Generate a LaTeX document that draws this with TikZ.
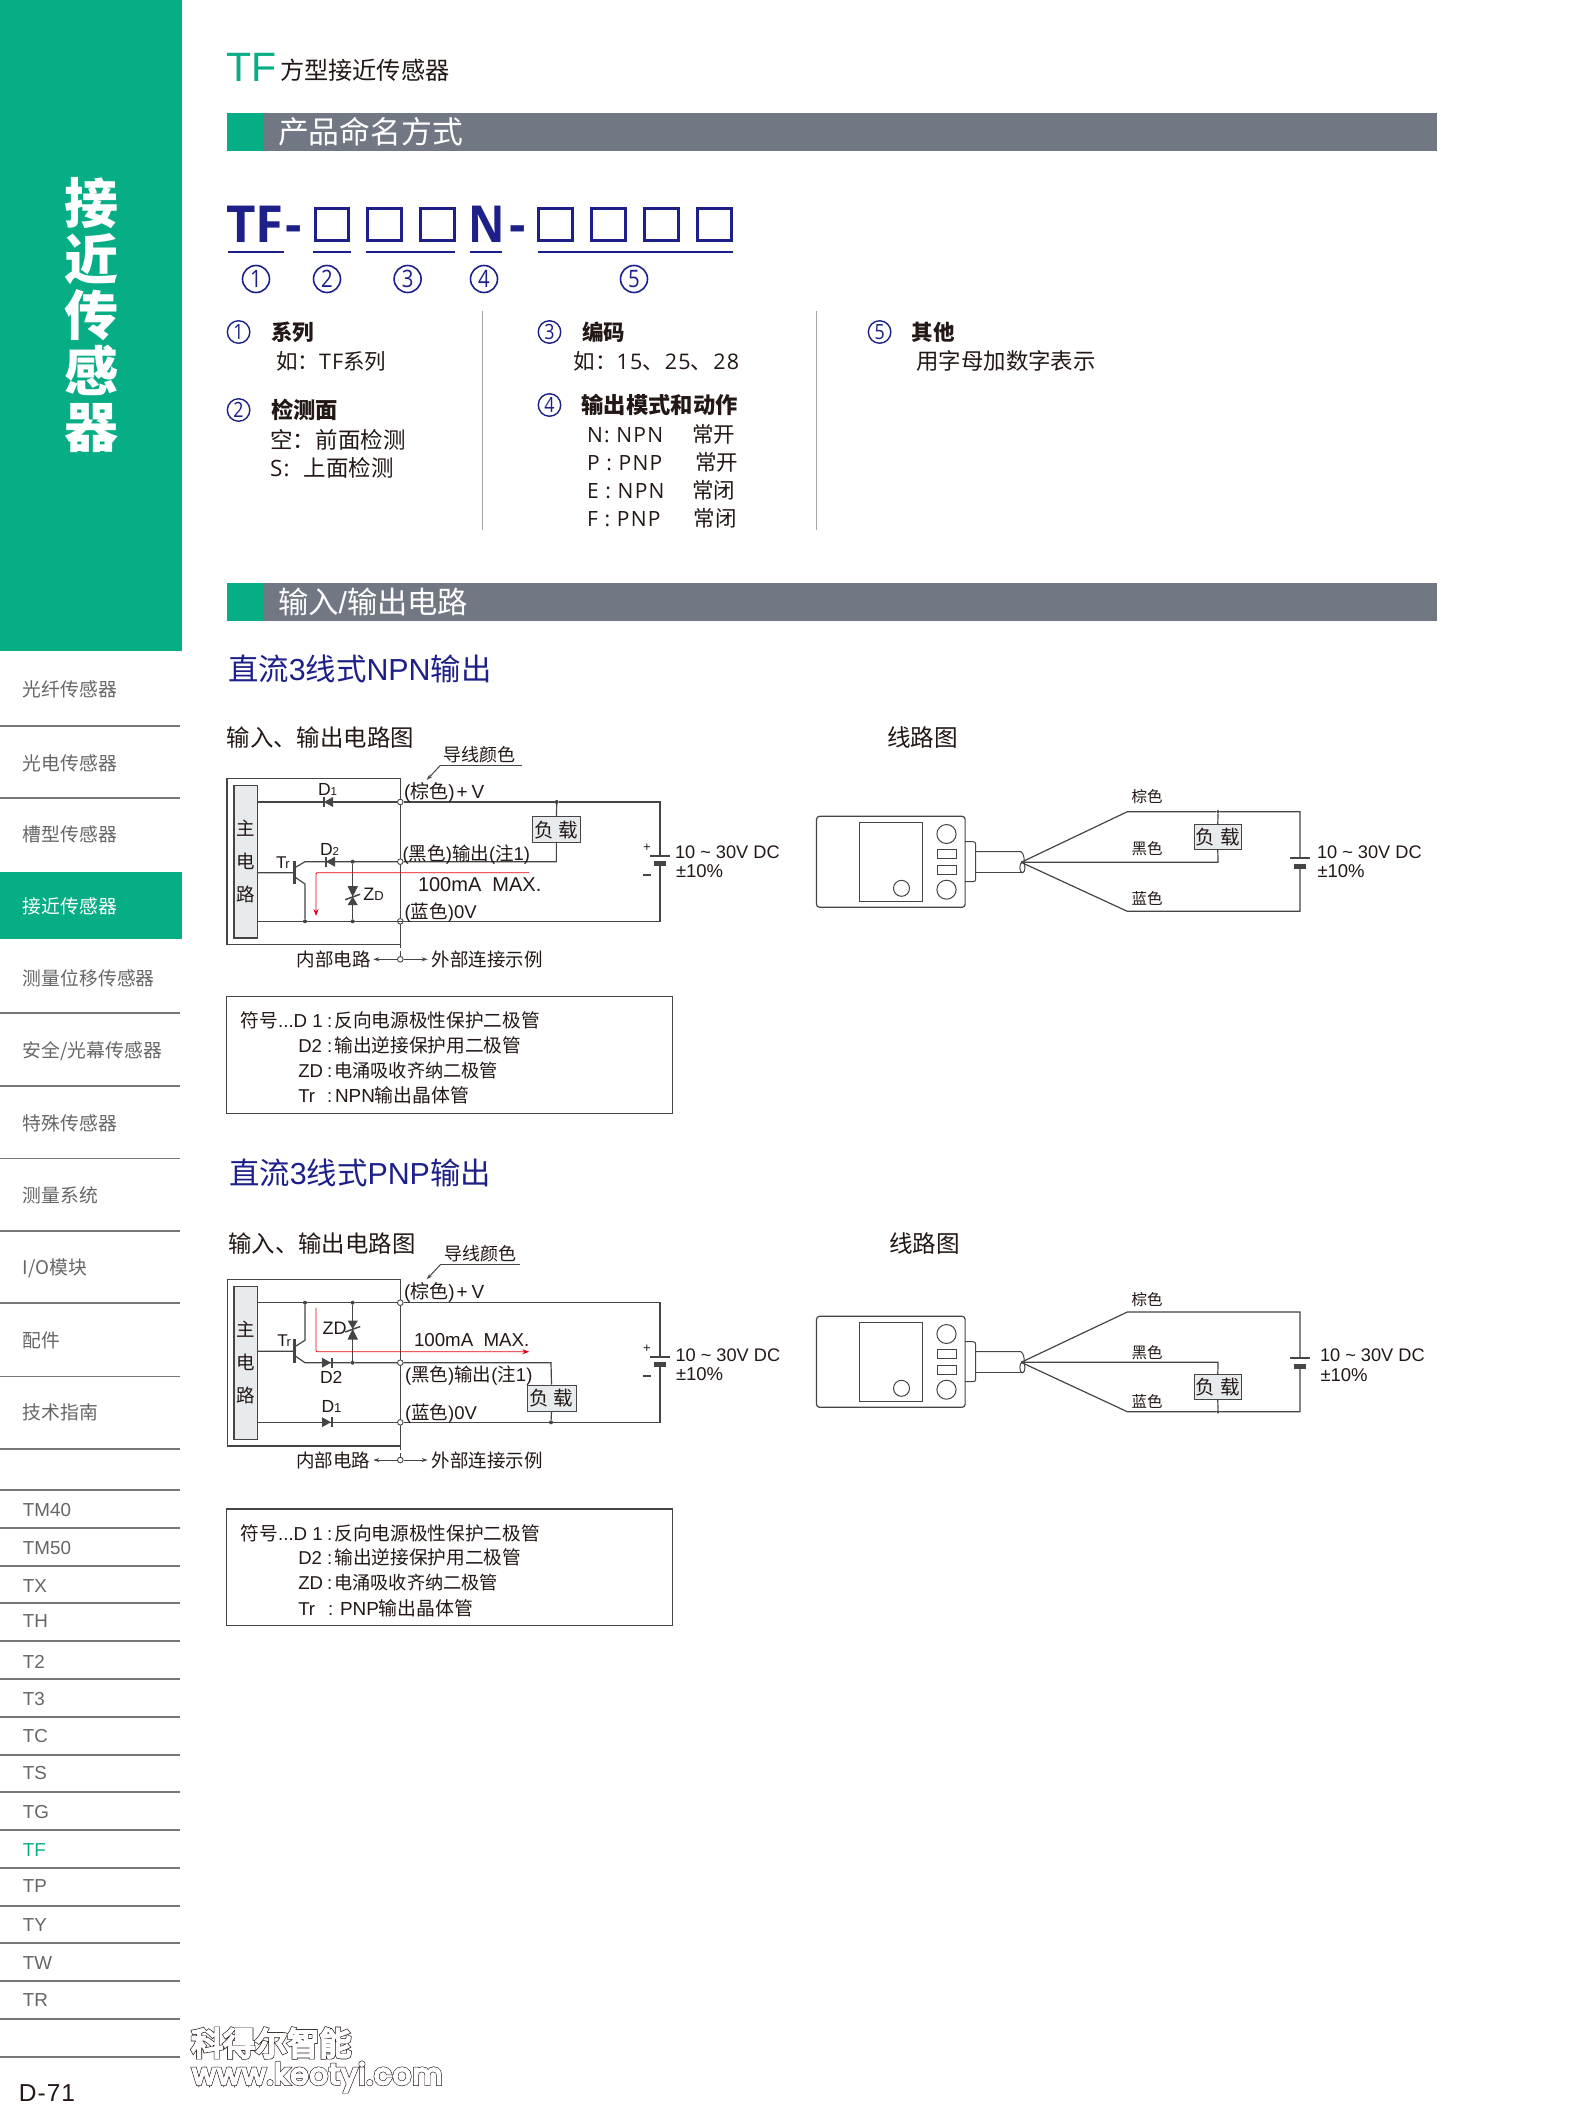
\documentclass[tikz,border=0pt]{standalone}
\usepackage{fontspec}
\setmainfont{Liberation Sans}
\newfontfamily\cjk{Noto Sans CJK SC}
\newfontfamily\op{Open Sans}[LetterSpace=6]
\newfontfamily\opn{Open Sans}
\newfontfamily\logoA{Noto Sans CJK SC}[FakeBold=11]
\newfontfamily\logoB{Noto Sans CJK SC}[FakeBold=7]
\newfontfamily\logoC{Poppins}[FakeBold=11,LetterSpace=4]
\newfontfamily\logoD{Poppins}[FakeBold=7,LetterSpace=4]
\usetikzlibrary{arrows.meta}
\definecolor{grn}{HTML}{07AE85}
\definecolor{bar}{HTML}{717783}
\definecolor{navy}{HTML}{1D2088}
\definecolor{txt}{HTML}{231815}
\definecolor{side}{HTML}{666666}
\definecolor{wire}{HTML}{454545}
\definecolor{loadfill}{HTML}{E8EBEE}
\definecolor{redl}{HTML}{E60012}
\definecolor{sep}{HTML}{777777}
\newcounter{tn}
\newcommand\Fs[1]{\fontsize{#1}{#1}\selectfont}
\newcommand\St{\rule[-.3em]{0pt}{1.34em}}
\newcommand\C[1]{{\cjk #1}}
\newcommand\CB[1]{{\cjk\bfseries #1}}
\newcommand\Nd[1]{\scalebox{.85}[1]{#1}}
\newcommand\Volt{10 \symbol{126} 30V DC}
% \lab[options]{x}{y}{size}{text}
\newcommand\lab[5][]{\stepcounter{tn}\node[lbl,#1] (t\arabic{tn}) at (#2,#3) {\Fs{#4}\St #5};}
% filled diodes: bar on the left / on the right
\newcommand\diodeL[2]{\fill[wire] ({#1+10.5},{#2-5}) -- ({#1+10.5},{#2+5}) -- ({#1+1.5},#2) -- cycle;
  \fill[wire] (#1,{#2-5}) rectangle ({#1+2},{#2+5});}
\newcommand\diodeR[2]{\fill[wire] (#1,{#2-5}) -- (#1,{#2+5}) -- ({#1+9},#2) -- cycle;
  \fill[wire] ({#1+9},{#2-5}) rectangle ({#1+11},{#2+5});}
\newcommand\zener[4]{\fill[wire] ({#1-5.2},{#2-#3}) -- ({#1+5.2},{#2-#3}) -- (#1,#2) -- cycle;
  \fill[wire] ({#1-5.2},{#2+#4}) -- ({#1+5.2},{#2+#4}) -- (#1,#2) -- cycle;
  \draw[wire,line width=1.5pt] ({#1-7.5},{#2+3}) -- ({#1+7.5},{#2-2.5});}
\newcommand\battery[3]{% x, y top plate, y bottom plate
  \draw[wire,line width=1.7pt] ({#1-10},#2) -- ({#1+10},#2);
  \fill[wire] ({#1-6},{#3-2.5}) rectangle ({#1+6},{#3+2.5});}
\newcommand\sensor[1]{\begin{scope}[shift={(0,#1)},wire,line width=1pt]
  \draw[rounded corners=3pt,line width=1.2pt] (816.5,816.3) rectangle (965.1,907.3);
  \draw (859,822.3) rectangle (922.8,901.7);
  \draw (946.5,834) ellipse (9.6pt and 9.5pt);
  \draw (946.5,889.7) ellipse (9.6pt and 9.5pt);
  \draw (937,849.7) rectangle (956.2,858.7);
  \draw (937,865.3) rectangle (956.2,874.7);
  \draw (901.5,888.3) circle[radius=8pt];
  \draw[rounded corners=2.5pt] (965.1,841.7) -- (975.7,841.7) -- (975.7,881.7) -- (965.1,881.7);
  \draw (975.7,851.7) -- (1020.8,851.7) .. controls (1023.3,853) and (1024.3,857) .. (1024.3,862);
  \draw (975.7,872.7) -- (1022.4,872.7);
  \draw (1022.4,867.5) ellipse (2.6pt and 5.3pt);
\end{scope}}
\begin{document}
\begin{tikzpicture}[x=1pt,y=-1pt,
  lbl/.style={inner sep=0pt,outer sep=0pt,anchor=west,text=txt},
  sd/.style={lbl,text=side},
  term/.style={circle,draw=wire,line width=.9pt,fill=white,inner sep=0pt,minimum size=5.6pt},
  jdot/.style={circle,fill=wire,inner sep=0pt,minimum size=4pt},
  lwire/.style={draw=wire,line width=1.2pt},
  loadbox/.style={draw=wire,line width=1pt,fill=loadfill,inner sep=0pt,text=txt,font=\cjk\Fs{19.5}},
  mainbox/.style={draw=wire,line width=1.2pt,fill=loadfill,inner sep=0pt,text=txt,align=center,font=\cjk\fontsize{18.5}{33}\selectfont},
  frame/.style={draw=wire,line width=1.2pt},
  numbig/.style={circle,draw=navy,line width=1.6pt,inner sep=0pt,minimum size=27pt,text=navy,font=\opn\Fs{24}},
  numsmall/.style={circle,draw=navy,line width=1.4pt,inner sep=0pt,minimum size=22.5pt,text=navy,font=\opn\Fs{21}},
  slot/.style={draw=navy,line width=2.6pt,inner sep=0pt,minimum width=33.5pt,minimum height=32.5pt},
  uline/.style={draw=navy,line width=1.6pt},
  redarrow/.style={draw=redl,line width=.9pt,rounded corners=1pt,-{Stealth[length=7pt,width=5pt]}},
  biarrow/.style={draw=wire,line width=1pt,-{Stealth[length=6pt,width=4pt]}},
]
\useasboundingbox[fill=white] (0,0) rectangle (1587,2117);

%---------- sidebar
\fill[grn] (0,0) rectangle (182,651);
\fill[grn] (0,872) rectangle (182,939);
\node[inner sep=0pt,text=white,align=center,font=\cjk\bfseries\fontsize{54}{56}\selectfont] (sidetitle) at (91,315) {接\\近\\传\\感\\器};
\foreach \yy in {726,798,1013,1086,1158.5,1231,1303,1376.5,1449,1490,1527.7,1565.7,1603,1641,1679,1717,1755,1792,1830,1868,1905.7,1943,1981,2018.7,2056.7}
  {\draw[sep,line width=1.6pt] (0,\yy) -- (179.5,\yy);}
\foreach \yy/\tx in {689.8/光纤传感器,763.3/光电传感器,835/槽型传感器,978.5/测量位移传感器,1050.8/{安全/光幕传感器},1123.8/特殊传感器,1195.8/测量系统,1267.8/{I/O模块},1340.8/配件,1413/技术指南}
  {\lab[sd]{23}{\yy}{18.8}{\C{\tx}}}
\lab[sd,text=white]{23}{906.8}{18.8}{\C{接近传感器}}
\foreach \yy/\tx in {1510/TM40,1548/TM50,1586/TX,1621/TH,1662/T2,1699/T3,1736/TC,1773/TS,1812/TG,1886/TP,1925/TY,1962.7/TW,2000/TR}
  {\lab[sd]{23}{\yy}{18.8}{\tx}}
\lab[sd,text=grn]{23}{1850}{18.8}{TF}
\lab{19}{2092.7}{24.5}{D\kern1pt-\kern1pt7\kern1pt1}
% watermark
\node[inner sep=0pt,anchor=west,text=txt] (wmA) at (191,2043) {\logoA\Fs{32}科得尔智能};
\node[inner sep=0pt,anchor=west,text=white] (wmB) at (191,2043) {\logoB\Fs{32}科得尔智能};
\node[inner sep=0pt,anchor=west,text=txt] (wmC) at (192,2077) {\logoC\Fs{29}www.keotyi.com};
\node[inner sep=0pt,anchor=west,text=white] (wmD) at (192,2077) {\logoD\Fs{29}www.keotyi.com};

%---------- title
\lab[text=grn]{226}{66}{41}{TF}
\lab{280}{70.5}{24.2}{\C{方型接近传感器}}
\fill[bar] (264,113) rectangle (1436.5,151);
\fill[grn] (227,113) rectangle (264,151);
\lab[text=white]{278}{132}{30.8}{\C{产品命名方式}}
\fill[bar] (264,583) rectangle (1436.5,621);
\fill[grn] (227,583) rectangle (264,621);
\lab[text=white]{278}{602}{30.3}{\C{输入}/\C{输出电路}}

%---------- model code
\lab[text=navy]{226}{224}{51}{\opn\bfseries TF}
\lab[text=navy]{285}{224}{51}{\opn\bfseries -}
\lab[text=navy]{468}{224}{51}{\opn\bfseries\scalebox{.88}[1]{N}}
\lab[text=navy]{509}{224}{51}{\opn\bfseries -}
\foreach \xx/\nm in {332/a,384.5/b,437.5/c,555.5/d,608.5/e,661.5/f,714.5/g}
  {\node[slot] (slot\nm) at (\xx,224.5) {};}
\draw[uline] (228,251.7) -- (284,251.7);
\draw[uline] (313,251.7) -- (351,251.7);
\draw[uline] (365.6,251.7) -- (455,251.7);
\draw[uline] (469.6,251.7) -- (502,251.7);
\draw[uline] (538,251.7) -- (733,251.7);
\node[numbig] (na) at (256,279) {\Nd{1}};
\node[numbig] (nb) at (327,279) {\Nd{2}};
\node[numbig] (nc) at (407.6,279) {\Nd{3}};
\node[numbig] (nd) at (484,279) {\Nd{4}};
\node[numbig] (ne) at (634,279) {\Nd{5}};

\node[numsmall] (la) at (238.6,332) {\Nd{1}};
\node[numsmall] (lb) at (238.6,410) {\Nd{2}};
\node[numsmall] (lc) at (549.5,332) {\Nd{3}};
\node[numsmall] (ld) at (549.5,405) {\Nd{4}};
\node[numsmall] (le) at (879.6,332) {\Nd{5}};
\lab{271}{333}{21.5}{\CB{系列}}
\lab{276}{361.7}{21.5}{\C{如：}{\op TF}\C{系列}}
\lab{271}{410}{22.3}{\CB{检测面}}
\lab{270}{439.7}{22.5}{\C{空：}\hspace{1pt}\C{前面检测}}
\lab{270}{467.7}{22.5}{{\op S:}\hspace{14pt}\C{上面检测}}
\draw[gray!70,line width=1.2pt] (482.6,311) -- (482.6,530);
\draw[gray!70,line width=1.2pt] (816.5,311) -- (816.5,530);
\lab{582}{333}{21.5}{\CB{编码}}
\lab{573.5}{361.7}{21.5}{\C{如：}{\op 15}\C{、}\kern1pt{\op 25}\C{、}\kern1pt{\op 28}}
\lab{581.5}{405.5}{22.3}{\CB{输出模式和动作}}
\lab{587}{435}{21}{\op N: NPN}
\lab{692}{435}{21.5}{\C{常开}}
\lab{587}{462.7}{21}{\op P : PNP}
\lab{695}{462.7}{21.5}{\C{常开}}
\lab{587}{490.7}{21}{\op E : NPN}
\lab{692}{490.7}{21.5}{\C{常闭}}
\lab{587}{518.7}{21}{\op F : PNP}
\lab{693.5}{518.7}{21.5}{\C{常闭}}
\lab{911.5}{333}{21.5}{\CB{其他}}
\lab{916.5}{361.7}{22.4}{\C{用字母加数字表示}}

%---------- NPN
\lab[text=navy]{228}{669}{30.4}{\C{直流}3\C{线式}NPN\C{输出}}
\lab{226.7}{738}{23.4}{\C{输入、输出电路图}}
\lab{887}{738}{23.6}{\C{线路图}}
\lab{443}{755}{18}{\C{导线颜色}}
\coordinate (colA) at (440.7,765);
\coordinate (colAend) at (522,765);
\coordinate (colAtip) at (426.7,780);
\draw[wire,line width=.9pt] (colAend) -- (colA);
\draw[biarrow] (colA) -- (colAtip);
\draw[frame] (400.3,778.3) -- (227,778.3) -- (227,944.3) -- (400.3,944.3) -- cycle;
\node[mainbox,minimum width=23.3pt,minimum height=152.7pt] (mainA) at (245.7,861.65) {主\\电\\路};
\coordinate (sa1) at (mainA.east |- 0,802);
\coordinate (sa2) at (mainA.east |- 0,872.7);
\coordinate (sa3) at (mainA.east |- 0,921.3);
\node[term] (ta1) at (400.3,802) {};
\node[term] (ta2) at (400.3,861.7) {};
\node[term] (ta3) at (400.3,921.3) {};
\node[term] (ta4) at (400.3,959.3) {};
\node[jdot] (ja1) at (556.7,802) {};
\node[jdot] (ja2) at (352.7,861.7) {};
\node[jdot] (ja3) at (352.7,921.3) {};
\node[jdot] (ja4) at (305,921.3) {};
\coordinate (ra1) at (660,802);
\coordinate (ra3) at (660,921.3);
\coordinate (bata) at (660,855.7);
\coordinate (batb) at (660,863.3);
\coordinate (ca) at (305,861.7);
\coordinate (ea) at (305,884);
\coordinate (ba) at (294.3,872.7);
\node[loadbox,minimum width=48.7pt,minimum height=26pt] (loadA) at (556.35,829.7) {负\hspace{5pt}载};
\coordinate (lAb) at (loadA.south);
\coordinate (lAc) at (lAb |- ca);
\draw[wire,line width=1.2pt] (sa1) -- (ta1) (ta1) -- (ja1) (ja1) -- (ra1) -- (bata);
\draw[wire,line width=1.2pt] (batb) -- (ra3) -- (ja3) (ja3) -- (ta3) (ta3) -- (sa3);
\draw[wire,line width=1.2pt] (ja1) -- (loadA) (lAb) -- (lAc) -- (ta2) (ta2) -- (ca) -- (294.3,868);
\draw[wire,line width=1.2pt] (sa2) -- (ba) (294.3,876.7) -- (ea) -- (ja4);
\draw[wire,line width=2.4pt] (294.3,861) -- (294.3,884);
\draw[wire,line width=1.2pt] (ja2) -- (ja3);
\diodeL{322.5}{802}
\diodeL{324.5}{861.7}
\zener{352.7}{896.7}{10.5}{8.5}
\battery{660}{855.7}{863.3}
\draw[wire,line width=1pt] (400.3,944.3) -- (400.3,948) (400.3,951) -- (ta4);
\draw[biarrow] (ta4) -- (373.3,959.3);
\draw[biarrow] (ta4) -- (427.7,959.3);
\draw[redarrow] (529.3,872.7) -- (316,872.7) -- (316,916);
\lab{318}{788.7}{17.5}{D{\Fs{11.5}1}}
\lab{320}{849}{17.5}{D{\Fs{11.5}2}}
\lab{276}{861.7}{17}{T\kern-1pt{\Fs{13}r}}
\lab{363.3}{894.3}{18}{Z{\Fs{13}D}}
\lab{404}{791.5}{19}{(\C{棕色})\kern2pt+\kern4pt V}
\lab{402.7}{853.2}{18.5}{(\C{黑色})\C{输出}(\C{注}1)}
\lab{404.7}{911.2}{18.5}{(\C{蓝色})0V}
\lab{418}{884.3}{20}{100mA\ \ MAX.}
\lab{296.7}{959.3}{18.5}{\C{内部电路}}
\lab{431.7}{959.3}{18.5}{\C{外部连接示例}}
\lab{643}{846.7}{13}{+}
\draw[wire,line width=1.8pt] (643,874.7) -- (651,874.7);
\lab{675}{851.3}{18.2}{\Volt}
\lab{676}{870.3}{18.5}{±10\%}
\draw[frame] (226.7,996.3) rectangle (672.3,1113.3);
\lab{240.7}{1020.7}{18.7}{\C{符号}...D 1}
\lab{298.3}{1045.3}{18.6}{D2}
\lab{298.3}{1070.5}{18.6}{ZD}
\lab{298.3}{1095.5}{18.6}{Tr}
\foreach \yy in {1020.7,1045.3,1070.5,1095.5} {\lab{327}{\yy}{18.6}{:}}
\lab{334.3}{1020.7}{18.7}{\C{反向电源极性保护二极管}}
\lab{334.3}{1045.3}{18.7}{\C{输出逆接保护用二极管}}
\lab{334.3}{1070.5}{18.2}{\C{电涌吸收齐纳二极管}}
\lab{335}{1095.5}{18.9}{NPN\C{输出晶体管}}

% wiring diagram 1
\sensor{0}
\coordinate (cvA) at (1021.1,862.3);
\coordinate (kA1) at (1127.3,811.7);
\coordinate (kA3) at (1127.3,911.3);
\coordinate (rA1) at (1300,811.7);
\coordinate (rA3) at (1300,911.3);
\node[jdot,minimum size=3.6pt] (jA) at (1218,811.7) {};
\node[loadbox,minimum width=46.4pt,minimum height=25.4pt] (loadB) at (1217.8,837) {负\hspace{5pt}载};
\coordinate (lBb) at (1218,862.3);
\draw[lwire] (cvA) -- (kA1) -- (jA) (jA) -- (rA1) -- (1300,858.3);
\draw[lwire] (cvA) -- (kA3) -- (rA3) -- (1300,866);
\draw[lwire] (cvA) -- (lBb) -- (loadB.south) (loadB.north) -- (jA);
\battery{1300}{858.3}{866}
\lab{1131.7}{796.7}{15.5}{\C{棕色}}
\lab{1131.7}{849}{15.5}{\C{黑色}}
\lab{1131.7}{899}{15.5}{\C{蓝色}}
\lab{1317}{851.3}{18.2}{\Volt}
\lab{1317.5}{871}{18.5}{±10\%}

%---------- PNP
\lab[text=navy]{229}{1173.5}{30.4}{\C{直流}3\C{线式}PNP\C{输出}}
\lab{228.3}{1243.7}{23.4}{\C{输入、输出电路图}}
\lab{889}{1243.7}{23.6}{\C{线路图}}
\lab{444}{1253.7}{18}{\C{导线颜色}}
\coordinate (colB) at (440.7,1264.3);
\coordinate (colBend) at (520,1264.3);
\coordinate (colBtip) at (426.7,1279.3);
\draw[wire,line width=.9pt] (colBend) -- (colB);
\draw[biarrow] (colB) -- (colBtip);
\draw[frame] (400.3,1279.7) -- (227.3,1279.7) -- (227.3,1446) -- (400.3,1446) -- cycle;
\node[mainbox,minimum width=23.3pt,minimum height=153pt] (mainB) at (245.7,1362.8) {主\\电\\路};
\coordinate (sb1) at (mainB.east |- 0,1302.7);
\coordinate (sb2) at (mainB.east |- 0,1351.3);
\coordinate (sb3) at (mainB.east |- 0,1422.3);
\node[term] (tb1) at (400.3,1302.7) {};
\node[term] (tb2) at (400.3,1362.7) {};
\node[term] (tb3) at (400.3,1422.3) {};
\node[term] (tb4) at (400.3,1460) {};
\node[jdot] (jb1) at (305,1302.7) {};
\node[jdot] (jb2) at (352.7,1302.7) {};
\node[jdot] (jb3) at (352.7,1362.7) {};
\node[jdot] (jb4) at (551,1422.3) {};
\coordinate (rb1) at (660,1302.7);
\coordinate (rb3) at (660,1422.3);
\coordinate (batc) at (660,1356.7);
\coordinate (batd) at (660,1364.3);
\coordinate (cb) at (305,1340.3);
\coordinate (eb) at (305,1362.7);
\node[loadbox,minimum width=49pt,minimum height=26pt] (loadC) at (551.5,1398) {负\hspace{5pt}载};
\coordinate (lCt) at (551,1362.7);
\draw[wire,line width=1.2pt] (sb1) -- (jb1) (jb1) -- (jb2) (jb2) -- (tb1) (tb1) -- (rb1) -- (batc);
\draw[wire,line width=1.2pt] (batd) -- (rb3) -- (jb4) (jb4) -- (tb3) (tb3) -- (sb3);
\draw[wire,line width=1.2pt] (jb1) -- (cb) -- (294.3,1347);
\draw[wire,line width=1.2pt] (sb2) -- (294.3,1351.3) (294.3,1355.3) -- (eb) -- (jb3) (jb3) -- (tb2) (tb2) -- (lCt) -- (loadC.north) (loadC.south) -- (jb4);
\draw[wire,line width=2.4pt] (294.3,1339.3) -- (294.3,1362.7);
\draw[wire,line width=1.2pt] (jb2) -- (jb3);
\diodeR{322}{1362.7}
\diodeR{322}{1422.2}
\zener{352.7}{1329}{8.5}{10.5}
\battery{660}{1356.7}{1364.3}
\draw[wire,line width=1pt] (400.3,1446) -- (400.3,1449.5) (400.3,1452.5) -- (tb4);
\draw[biarrow] (tb4) -- (373.3,1460);
\draw[biarrow] (tb4) -- (427.7,1460);
\draw[redarrow] (316,1307.7) -- (316,1351.7) -- (529.3,1351.7);
\lab{321.5}{1406}{17.5}{D{\Fs{13}1}}
\lab{320}{1376.7}{17.5}{D2}
\lab{277.3}{1340}{17}{T\kern-1pt{\Fs{13}r}}
\lab{322.7}{1328.3}{18}{ZD}
\lab{404}{1291.5}{19}{(\C{棕色})\kern2pt+\kern4pt V}
\lab{405}{1374.8}{18.5}{(\C{黑色})\C{输出}(\C{注}1)}
\lab{405}{1412.2}{18.5}{(\C{蓝色})0V}
\lab{414}{1339.3}{18.7}{100mA\ \ MAX.}
\lab{296}{1460.5}{18.5}{\C{内部电路}}
\lab{431.7}{1460.5}{18.5}{\C{外部连接示例}}
\lab{643}{1348}{13}{+}
\draw[wire,line width=1.8pt] (643,1375.7) -- (651,1375.7);
\lab{675.5}{1354.7}{18.2}{\Volt}
\lab{676}{1374}{18.5}{±10\%}
\draw[frame] (226.7,1509) rectangle (672.3,1625.3);
\lab{240.7}{1533.2}{18.7}{\C{符号}...D 1}
\lab{298.3}{1557.6}{18.6}{D2}
\lab{298.3}{1582.6}{18.6}{ZD}
\lab{298.3}{1608.2}{18.6}{Tr}
\foreach \yy in {1533.2,1557.6,1582.6} {\lab{327}{\yy}{18.6}{:}}
\lab{328}{1608.2}{18.6}{:}
\lab{334.3}{1533.2}{18.7}{\C{反向电源极性保护二极管}}
\lab{334.3}{1557.6}{18.7}{\C{输出逆接保护用二极管}}
\lab{334.3}{1582.6}{18.2}{\C{电涌吸收齐纳二极管}}
\lab{340}{1608.2}{18.9}{PNP\C{输出晶体管}}

% wiring diagram 2
\sensor{500}
\coordinate (cvB) at (1021.1,1362.3);
\coordinate (kB1) at (1127.3,1312);
\coordinate (kB3) at (1127.3,1411.7);
\coordinate (rB1) at (1300,1312);
\coordinate (rB3) at (1300,1411.7);
\node[jdot,minimum size=3.6pt] (jB) at (1218,1411.7) {};
\node[loadbox,minimum width=46.4pt,minimum height=25.4pt] (loadD) at (1217.8,1387) {负\hspace{5pt}载};
\coordinate (lDt) at (1218,1362.3);
\draw[lwire] (cvB) -- (kB1) -- (rB1) -- (1300,1358.3);
\draw[lwire] (cvB) -- (kB3) -- (jB) (jB) -- (rB3) -- (1300,1366);
\draw[lwire] (cvB) -- (lDt) -- (loadD.north) (loadD.south) -- (jB);
\battery{1300}{1358.3}{1366}
\lab{1131.7}{1300}{15.5}{\C{棕色}}
\lab{1131.7}{1352.3}{15.5}{\C{黑色}}
\lab{1131.7}{1401.7}{15.5}{\C{蓝色}}
\lab{1320}{1355}{18.2}{\Volt}
\lab{1320.5}{1375}{18.5}{±10\%}
\end{tikzpicture}
\end{document}
